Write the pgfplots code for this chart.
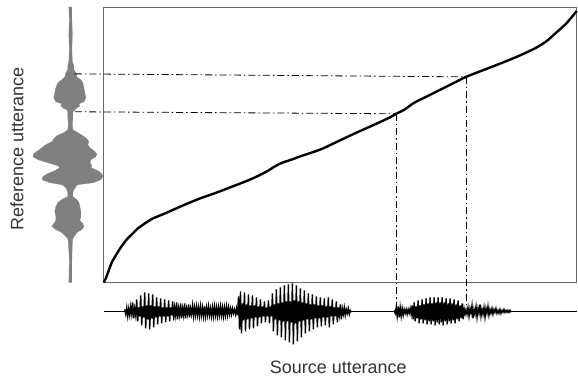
\documentclass[border=0pt]{standalone}
\usepackage{pgfplots}
\pgfplotsset{compat=1.18}
\usepackage{fontspec}
\setmainfont{Liberation Sans}
\definecolor{wavegray}{RGB}{128,128,128}
\definecolor{txt}{RGB}{51,51,51}

\begin{document}
\begin{tikzpicture}
\begin{axis}[
  scale only axis,
  width=474pt, height=276pt,
  xmin=104, xmax=578, ymin=7, ymax=283,
  y dir=reverse,
  xtick=\empty, ytick=\empty,
  axis line style={black!60, line width=0.8pt},
  clip=false,
]
% bounding box of the whole picture
\path (axis cs:0,0) rectangle (axis cs:578,383);

% left (reference) waveform
\addplot[fill=wavegray, draw=wavegray, line width=0.3pt] coordinates {
(72,7) (72,20) (72.5,35) (72,50) (72.5,62) (74,66) (74,70) (76,73) (77,77) (81,80) (83,83) (84,88) (85,93) (86,98) (84,102) (79,104) (80,106) (77,108) (75,110) (73,112) (73,118) (72.5,124) (73,130) (78,133) (83,136) (87,139) (89,142) (88,145) (90,148) (94,151) (97,154) (96,157) (91,160) (90,163) (92,166) (91,168) (98,171) (102,174) (103,177) (101,180) (94,183) (78,185) (76,187) (74,190) (73,193) (73,197) (77,200) (79,203) (80,207) (81,212) (81,217) (80,221) (83,224) (84,227) (82,230) (77,233) (75,236) (73,239) (72.5,242) (72,260) (72,283)
(69,283) (69.5,260) (68.5,242) (68,239) (65,236) (62,233) (56,230) (52,227) (54,224) (56,221) (56,217) (55,212) (56,207) (58,203) (62,200) (68,197) (68,193) (67,190) (65,187) (62,185) (50,183) (42,180) (43,177) (48,174) (55,171) (60,168) (58,166) (48,163) (38,160) (33,157) (34,154) (38,151) (42,148) (46,145) (52,142) (54,139) (57,136) (64,133) (68,130) (68.5,124) (68,118) (68,112) (67,110) (63,108) (61,106) (62,104) (56,102) (54,98) (55,93) (56,88) (58,83) (62,80) (65,77) (66,73) (68,70) (68,66) (69,62) (69.5,50) (69,35) (69.5,20) (69,7)
};

% bottom (source) waveform
\addplot[black, line width=1.2pt] coordinates {(104,312) (125,312)};
\addplot[black, line width=1.2pt] coordinates {(352,312) (395,312)};
\addplot[black, line width=1.2pt] coordinates {(512,312) (578,312)};
\addplot[black, line width=1.35pt] coordinates {
(125,310) (126,315) (127,308) (128,317) (129,309) (130,316) (131,307) (132,315)
(133,303) (134,319) (135,309) (136,316) (137,300) (138,322) (139,308) (140,317)
(141,296) (142,326) (143,307) (144,318) (145,293) (146,329) (147,306) (148,320)
(149,294) (150,330) (151,306) (152,319) (153,295) (154,328) (155,307) (156,318)
(157,298) (158,325) (159,307) (160,317) (161,299) (162,324) (163,308) (164,317)
(165,300) (166,323) (167,308) (168,317) (169,301) (170,322) (171,308) (172,316)
(173,302) (174,321) (175,308) (176,316) (177,303) (178,320) (179,309) (180,316)
(181,304) (182,319) (183,309) (184,316) (185,304) (186,319) (187,309) (188,315)
(189,305) (190,318) (191,309) (192,315) (193,306) (194,317) (195,308) (196,316)
(197,307) (198,316) (199,308) (200,317) (201,307) (202,316) (203,308) (204,317)
(205,307) (206,317) (207,308) (208,316) (209,307) (210,316) (211,309) (212,317)
(213,308) (214,317) (215,307) (216,316) (217,308) (218,317) (219,308) (220,316)
(221,307) (222,316) (223,308) (224,317) (225,308) (226,316) (227,307) (228,316)
(229,308) (230,315) (231,309) (232,315) (233,309) (234,314) (235,310) (236,315)
(237,309) (238,316) (239,297) (240,330) (241,292) (242,334) (243,304) (244,321)
(245,293) (246,332) (247,305) (248,320) (249,295) (250,330) (251,306) (252,319)
(253,296) (254,329) (255,306) (256,318) (257,298) (258,327) (259,307) (260,318)
(261,300) (262,324) (263,307) (264,317) (265,302) (266,323) (267,308) (268,317)
(269,301) (270,324) (271,307) (272,317) (273,294) (274,332) (275,305) (276,320)
(277,290) (278,336) (279,304) (280,321) (281,288) (282,338) (283,303) (284,322)
(285,286) (286,341) (287,302) (288,322) (289,285) (290,343) (291,302) (292,323)
(293,284) (294,345) (295,301) (296,324) (297,286) (298,342) (299,302) (300,322)
(301,289) (302,338) (303,303) (304,321) (305,291) (306,334) (307,304) (308,320)
(309,294) (310,332) (311,305) (312,320) (313,295) (314,330) (315,305) (316,319)
(317,297) (318,328) (319,306) (320,319) (321,298) (322,327) (323,306) (324,318)
(325,299) (326,326) (327,307) (328,318) (329,298) (330,328) (331,307) (332,317)
(333,300) (334,325) (335,308) (336,317) (337,302) (338,323) (339,308) (340,316)
(341,305) (342,320) (343,309) (344,315) (345,308) (346,316) (347,310) (348,314)
(349,309) (350,315) (351,311) (352,313)
};
\addplot[black, line width=1.35pt] coordinates {
(395,311) (396,314) (397,308) (398,317) (399,307) (400,318) (401,308) (402,317)
(403,309) (404,316) (405,310) (406,314) (407,310) (408,315) (409,310) (410,314)
(411,309) (412,315) (413,306) (414,320) (415,303) (416,322) (417,307) (418,319)
(419,301) (420,324) (421,306) (422,320) (423,300) (424,324) (425,305) (426,321)
(427,299) (428,325) (429,304) (430,322) (431,298) (432,325) (433,304) (434,322)
(435,298) (436,326) (437,303) (438,323) (439,298) (440,325) (441,303) (442,323)
(443,298) (444,326) (445,303) (446,322) (447,299) (448,325) (449,304) (450,322)
(451,299) (452,324) (453,304) (454,321) (455,300) (456,324) (457,305) (458,320)
(459,301) (460,322) (461,306) (462,319) (463,304) (464,320) (465,309) (466,315)
(467,310) (468,315) (469,308) (470,317) (471,309) (472,314) (473,306) (474,319)
(475,310) (476,315) (477,307) (478,318) (479,309) (480,314) (481,305) (482,317)
(483,310) (484,315) (485,308) (486,318) (487,309) (488,314) (489,307) (490,316)
(491,310) (492,314) (493,309) (494,315) (495,310) (496,313) (497,309) (498,314)
(499,311) (500,314) (501,310) (502,314) (503,311) (504,313) (505,310) (506,313)
(507,311) (508,313) (509,311) (510,313) (511,311) (512,313)
};

% dash-dot correspondence lines
\addplot[black, line width=0.8pt, dash pattern=on 7pt off 3pt on 1.5pt off 3pt] coordinates {(75,74) (467,77)};
\addplot[black, line width=0.8pt, dash pattern=on 7pt off 3pt on 1.5pt off 3pt] coordinates {(75,112) (397,114)};
\addplot[black, line width=0.8pt, dash pattern=on 7pt off 3pt on 1.5pt off 3pt] coordinates {(397,114) (397,308)};
\addplot[black, line width=0.8pt, dash pattern=on 7pt off 3pt on 1.5pt off 3pt] coordinates {(467,77) (467,308)};

% warping path
\addplot[black, line width=2.4pt, smooth, tension=0.4] coordinates {
(104,283) (106,279) (109,271) (112,263) (116,256) (121,248) (127,240) (133,234) (138,229) (145,224) (153,219) (165,214) (183,206) (200,199) (217,193) (230,188) (243,183) (255,178) (267,172) (275,167) (283,163) (292,160) (300,157) (312,153) (323,149) (340,141) (357,133) (375,125) (390,118) (397,114) (405,110) (415,103) (427,97) (437,92) (447,87) (457,82) (467,77) (485,70) (503,63) (520,56) (537,48) (548,41) (557,33) (567,24) (578,11)
};

% axis labels
\node[anchor=base, text=txt, font=\fontsize{18}{21}\selectfont] at (axis cs:339,374) {Source utterance};
\node[anchor=center, rotate=90, text=txt, font=\fontsize{18}{21}\selectfont] at (axis cs:17,149) {Reference utterance};
\end{axis}
\end{tikzpicture}
\end{document}
